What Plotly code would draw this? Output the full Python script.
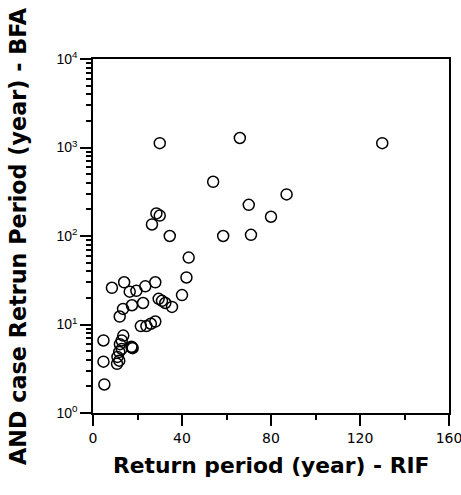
import plotly.graph_objects as go

# Return period (year) - RIF
rif = [30, 66, 130, 54, 87, 70, 80, 28.5, 30, 26.5, 34.5, 58.5, 71, 43, 42, 40,
       8.5, 14, 16.5, 19.5, 23.5, 28, 13.5, 17.5, 12, 22.5, 29.5, 31, 32.5, 35.5,
       21.5, 24, 26, 28, 4.7, 4.7, 5.1, 13.6, 12.9, 12.1, 12.9, 11.8, 11.0, 11.8,
       10.8, 17.3, 17.8, 17.5]
# AND case return period (year) - BFA
bfa = [1120, 1280, 1120, 410, 295, 225, 165, 180, 170, 135, 100, 100, 103, 57, 34, 21.5,
       26, 30, 23.5, 24, 27, 30, 15, 16.5, 12.3, 17.5, 19.5, 18.5, 17.5, 15.8,
       9.6, 9.6, 10.2, 10.8, 6.6, 3.8, 2.1, 7.5, 6.6, 6.0, 5.3, 4.9, 4.3, 3.9,
       3.6, 5.6, 5.4, 5.5]

x_ticks = [0, 40, 80, 120, 160]
y_ticks = [1, 10, 100, 1000, 10000]
y_ticktext = ["10<sup>0</sup>", "10<sup>1</sup>", "10<sup>2</sup>", "10<sup>3</sup>", "10<sup>4</sup>"]
y_minor = [m * 10 ** k for k in range(4) for m in range(2, 10)]

x_title = "Return period (year) - RIF"
y_title = "AND case Retrun Period (year) - BFA"

wide = "DejaVu Sans, Verdana, sans-serif"
narrow = "Liberation Sans, Arial, sans-serif"

fig = go.Figure()
fig.add_trace(go.Scatter(
    x=rif, y=bfa, mode="markers",
    marker=dict(symbol="circle-open", size=11, color="black", line=dict(width=1.5, color="black")),
    showlegend=False, cliponaxis=False,
))

axis_common = dict(
    showgrid=False, zeroline=False, automargin=False,
    showline=True, linecolor="black", linewidth=1.5, mirror=True,
    ticks="outside", ticklen=11, tickwidth=1.5, tickcolor="black",
    ticklabeloverflow="allow",
)

fig.update_layout(
    width=461, height=495,
    margin=dict(l=93, r=12, t=59, b=82),
    paper_bgcolor="white", plot_bgcolor="white",
    font=dict(family=narrow, color="black", size=14),
    xaxis=dict(
        range=[0, 160], tickvals=x_ticks, ticktext=[str(v) for v in x_ticks],
        minor=dict(tickvals=[20, 60, 100, 140], ticks="outside", ticklen=5, tickwidth=1.5, tickcolor="black"),
        tickfont=dict(size=14, family=wide),
        **axis_common,
    ),
    yaxis=dict(
        type="log", range=[0, 4], tickvals=y_ticks, ticktext=y_ticktext,
        minor=dict(tickvals=y_minor, ticks="outside", ticklen=5, tickwidth=1.5, tickcolor="black"),
        tickfont=dict(size=14, family=narrow),
        **axis_common,
    ),
    annotations=[
        dict(text="<b>" + x_title + "</b>", xref="paper", yref="paper", x=0.5, y=-0.1497,
             xanchor="center", yanchor="middle", showarrow=False,
             font=dict(size=21.8, family=wide, color="black")),
        dict(text="<b>" + y_title + "</b>", xref="paper", yref="paper", x=-0.211, y=0.5,
             xanchor="center", yanchor="middle", showarrow=False, textangle=-90,
             font=dict(size=22.3, family=wide, color="black")),
    ],
)

fig.write_html("out.html")
